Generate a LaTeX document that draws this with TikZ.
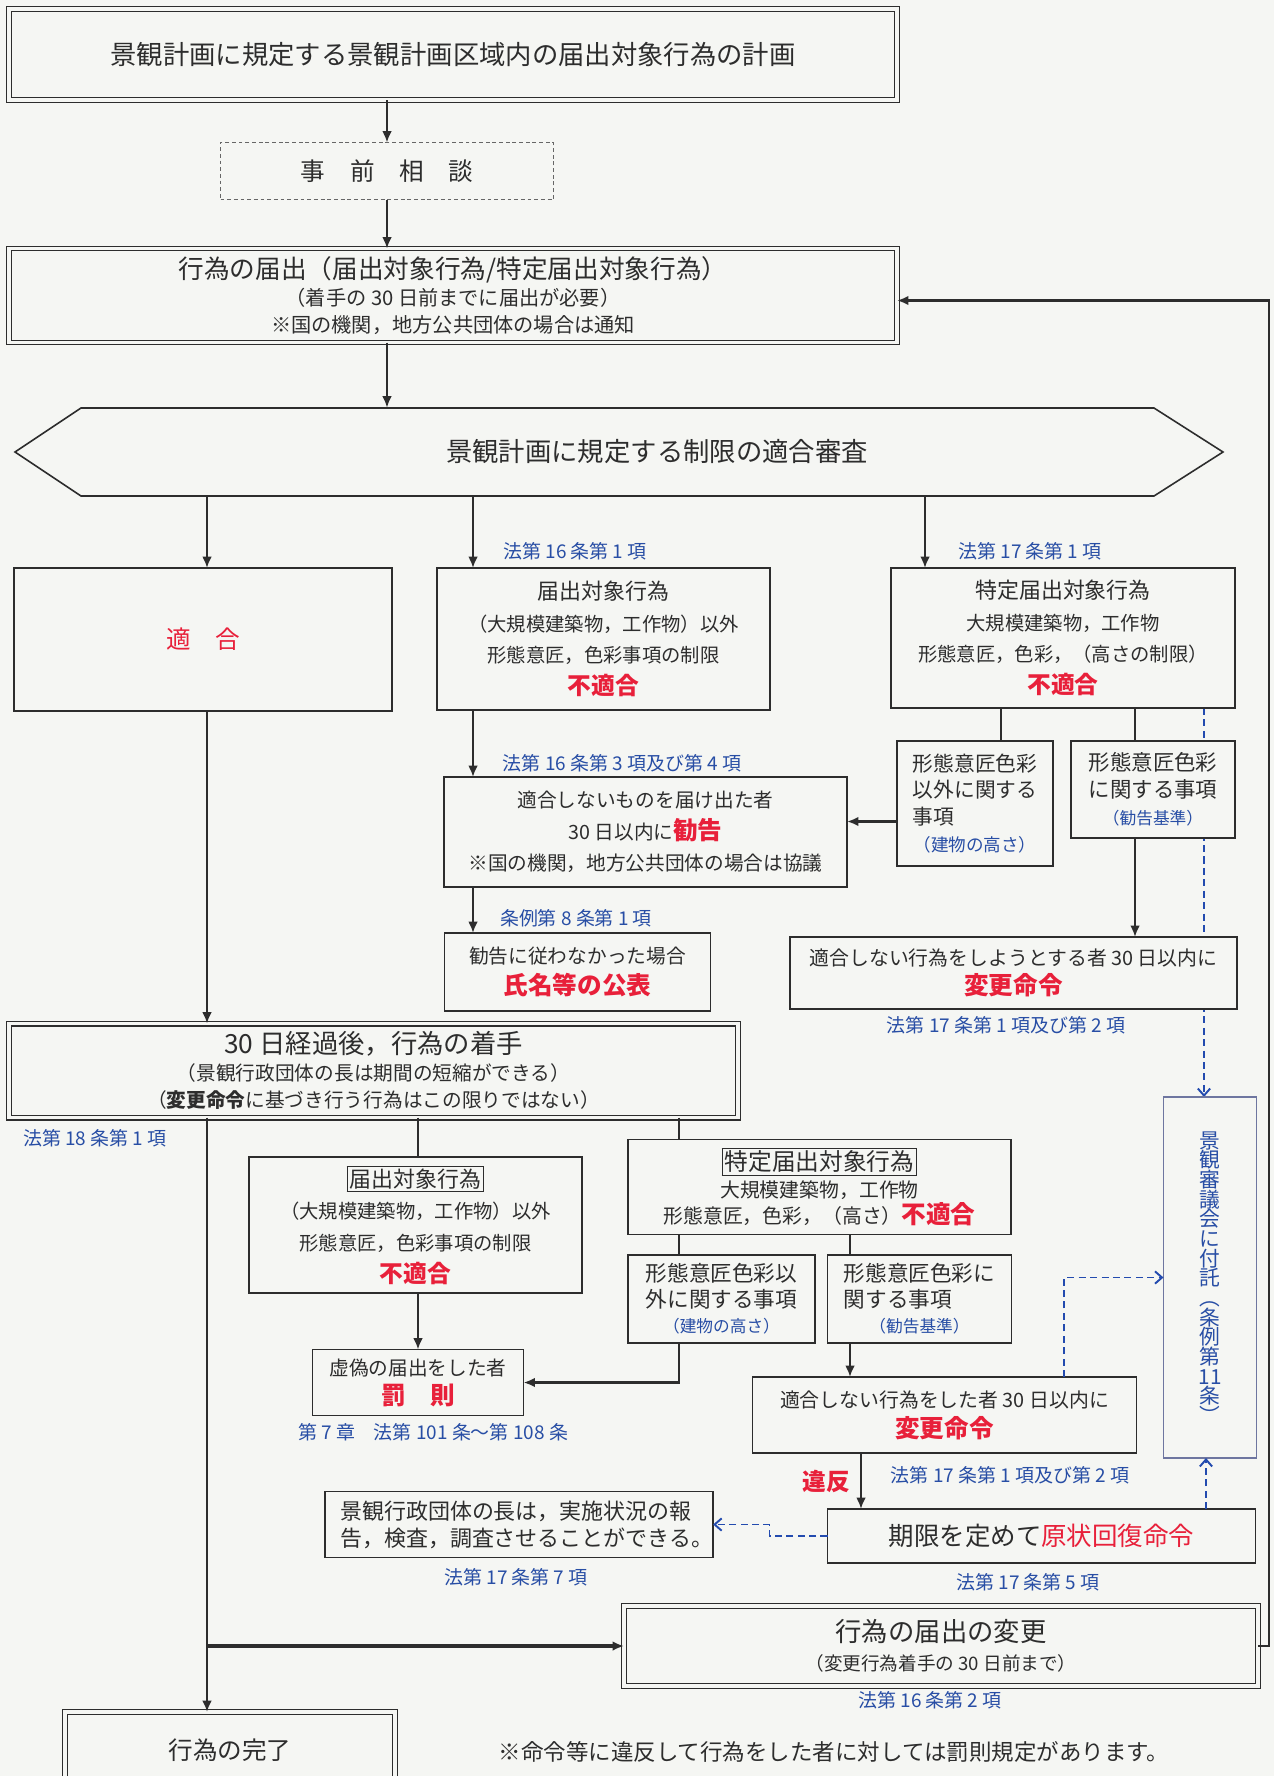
\documentclass[tikz,border=0pt]{standalone}
\usepackage{fontspec}
\setmainfont{Noto Sans CJK JP}
\usetikzlibrary{arrows.meta,positioning,calc,backgrounds}
\definecolor{bgc}{RGB}{245,246,243}
\definecolor{inkc}{RGB}{45,45,45}
\definecolor{redc}{RGB}{232,32,58}
\definecolor{lawc}{RGB}{40,78,165}
\definecolor{dashc}{RGB}{35,75,175}
\definecolor{frmc}{RGB}{110,118,160}
\newcommand{\pxu}{0.02cm}
\newcommand{\fsz}[2]{\fontsize{#1}{#2}\selectfont}
\newcommand{\redbf}[2][14]{{\fontsize{#1}{#1}\selectfont\bfseries\color{redc}#2}}
\newcommand{\redtxt}[2][14]{{\fontsize{#1}{#1}\selectfont\color{redc}#2}}
\newcommand{\bluetxt}[2][10]{{\fontsize{#1}{#1}\selectfont\color{lawc}#2}}
\setlength{\fboxsep}{1.2pt}
\setlength{\fboxrule}{0.5pt}

\begin{document}
\begin{tikzpicture}[
x=\pxu,y=-\pxu,
box/.style={draw=inkc,fill=bgc,line width=0.9pt,align=center,inner sep=0pt,outer sep=0pt,text=inkc},
dbox/.style={box,double=bgc,double distance=1.8pt,line width=0.8pt},
arr/.style={-{Latex[length=6.5pt,width=5.5pt]},line width=1.2pt,draw=inkc},
link/.style={line width=1.2pt,draw=inkc},
darr/.style={-{Straight Barb[length=4pt,width=7pt]},line width=1.1pt,draw=dashc,dash pattern=on 4pt off 2.5pt},
law/.style={text=lawc,inner sep=0pt,font=\fsz{10.8}{12}}]
\useasboundingbox (0,0) rectangle (1274,1776);
\clip (0,0) rectangle (1274,1776);

\node[dbox,minimum width=888*\pxu,minimum height=91*\pxu,font=\fsz{15}{16}] (plan) at (453,54.5) {景観計画に規定する景観計画区域内の届出対象行為の計画};
\node[box,minimum width=333*\pxu,minimum height=57*\pxu,draw=black!60,line width=0.6pt,dash pattern=on 2.2pt off 1.6pt,font=\fsz{14}{16}] (consult) at (387,171) {事　前　相　談};
\node[dbox,minimum width=888*\pxu,minimum height=94*\pxu,font=\fsz{11.5}{15.3}] (notify) at (453,295.5) {{\fsz{14.6}{16}行為の届出（届出対象行為/特定届出対象行為）}\\（着手の 30 日前までに届出が必要）\\※国の機関，地方公共団体の場合は通知};
\node[text=inkc,inner sep=0pt,minimum width=426*\pxu,minimum height=88*\pxu,font=\fsz{15}{18}] (hex) at (657,452) {景観計画に規定する制限の適合審査};
\draw[draw=inkc,line width=0.9pt] (15,452) -- (81,408) -- (1154,408) -- (1223,452) -- (1154,496) -- (81,496) -- cycle;

\node[box,minimum width=378*\pxu,minimum height=143*\pxu,font=\fsz{14}{16}] (ok) at (203,639.5) {\redtxt{適　合}};
\node[box,minimum width=333*\pxu,minimum height=142*\pxu,font=\fsz{11}{18}] (nf1) at (603.5,639) {{\fsz{12.5}{14}届出対象行為}\\（大規模建築物，工作物）以外\\形態意匠，色彩事項の制限\\\redbf[13.5]{不適合}};
\node[box,minimum width=344*\pxu,minimum height=140*\pxu,font=\fsz{11}{18}] (sp1) at (1063,638) {{\fsz{12.5}{14}特定届出対象行為}\\大規模建築物，工作物\\形態意匠，色彩，（高さの制限）\\\redbf[13.5]{不適合}};
\node[box,minimum width=156*\pxu,minimum height=125*\pxu,font=\fsz{11.8}{15.3}] (sp1a) at (975,803.5) {形態意匠色彩\\以外に関する\\\makebox[6em][l]{事項}\\\bluetxt{（建物の高さ）}};
\node[box,minimum width=164*\pxu,minimum height=97*\pxu,font=\fsz{12.2}{15.3}] (sp1b) at (1153,789.5) {形態意匠色彩\\に関する事項\\\bluetxt[9.5]{（勧告基準）}};
\node[box,minimum width=403*\pxu,minimum height=110*\pxu,font=\fsz{11.2}{18}] (adv) at (645.5,832) {適合しないものを届け出た者\\30 日以内に\redbf{勧告}\\※国の機関，地方公共団体の場合は協議};
\node[box,minimum width=266*\pxu,minimum height=78*\pxu,font=\fsz{11.2}{17.5}] (pub) at (577.5,972) {勧告に従わなかった場合\\\redbf{氏名等の公表}};
\node[box,minimum width=447*\pxu,minimum height=72*\pxu,font=\fsz{11.3}{16.5}] (chg1) at (1013.5,973) {適合しない行為をしようとする者 30 日以内に\\\redbf{変更命令}};
\node[dbox,minimum width=729*\pxu,minimum height=94*\pxu,font=\fsz{11.2}{15.3}] (start) at (373.5,1070.5) {{\fsz{15}{16}30 日経過後，行為の着手}\\（景観行政団体の長は期間の短縮ができる）\\（{\bfseries 変更命令}に基づき行う行為はこの限りではない）};
\node[box,minimum width=333*\pxu,minimum height=136*\pxu,font=\fsz{11}{18}] (nf2) at (415.5,1225) {{\fsz{12.5}{14}\fbox{届出対象行為}}\\（大規模建築物，工作物）以外\\形態意匠，色彩事項の制限\\\redbf[13.5]{不適合}};
\node[box,minimum width=383*\pxu,minimum height=95*\pxu,font=\fsz{11.3}{15}] (sp2) at (819.5,1187) {{\fsz{13.5}{15}\fbox{特定届出対象行為}}\\大規模建築物，工作物\\形態意匠，色彩，（高さ）\redbf{不適合}};
\node[box,minimum width=187*\pxu,minimum height=88*\pxu,font=\fsz{12.3}{14.5}] (sp2a) at (721.5,1299) {形態意匠色彩以\\外に関する事項\\\bluetxt[9.5]{（建物の高さ）}};
\node[box,minimum width=184*\pxu,minimum height=88*\pxu,font=\fsz{12.3}{14.5}] (sp2b) at (919.5,1299) {形態意匠色彩に\\\makebox[7em][l]{関する事項}\\\bluetxt[9.5]{（勧告基準）}};
\node[box,minimum width=211*\pxu,minimum height=66*\pxu,font=\fsz{11.2}{16.5}] (pen) at (418,1382.5) {虚偽の届出をした者\\\redbf{罰　則}};
\node[box,minimum width=384*\pxu,minimum height=76*\pxu,font=\fsz{11.3}{17}] (chg2) at (944.5,1415) {適合しない行為をした者 30 日以内に\\\redbf{変更命令}};
\node[box,minimum width=93*\pxu,minimum height=361*\pxu,draw=frmc,line width=0.7pt,text=lawc,font=\fsz{11.8}{11.2}] (council) at (1210,1277.5) {景\\観\\審\\議\\会\\に\\付\\託\\︵\\条\\例\\第\\11\\条\\︶};
\node[box,minimum width=428*\pxu,minimum height=54*\pxu,font=\fsz{14.5}{16}] (restore) at (1041.5,1536) {期限を定めて\redtxt[14.5]{原状回復命令}};
\node[box,minimum width=388*\pxu,minimum height=66*\pxu,align=left,font=\fsz{12.5}{15.3}] (report) at (519,1524.5) {\hspace*{0.7em}景観行政団体の長は，実施状況の報\\\hspace*{0.7em}告，検査，調査させることができる。};
\node[dbox,minimum width=634*\pxu,minimum height=80*\pxu,font=\fsz{10.6}{16.5}] (change) at (941,1646) {{\fsz{15}{16}行為の届出の変更}\\（変更行為着手の 30 日前まで）};
\node[dbox,minimum width=330*\pxu,minimum height=76*\pxu,font=\fsz{14}{16}] (done) at (230,1750) {行為の完了};

\node[law] (l161) at (575,551) {法第 16 条第 1 項};
\node[law] (l171) at (1030,551) {法第 17 条第 1 項};
\node[law] (l163) at (622,763) {法第 16 条第 3 項及び第 4 項};
\node[law] (lj81) at (576,918) {条例第 8 条第 1 項};
\node[law] (l1712a) at (1006,1025) {法第 17 条第 1 項及び第 2 項};
\node[law] (l181) at (95,1138) {法第 18 条第 1 項};
\node[law] (lch7) at (433,1432) {第 7 章　法第 101 条～第 108 条};
\node[law] (l1712b) at (1010,1475) {法第 17 条第 1 項及び第 2 項};
\node[inner sep=0pt] (viol) at (826,1481) {\redbf[13.5]{違反}};
\node[law] (l177) at (516,1577) {法第 17 条第 7 項};
\node[law] (l175) at (1028,1582) {法第 17 条第 5 項};
\node[law] (l162) at (930,1700) {法第 16 条第 2 項};
\node[text=inkc,font=\fsz{12.8}{14}] (note) at (834,1752) {※命令等に違反して行為をした者に対しては罰則規定があります。};

\coordinate (cA) at (207,0);
\coordinate (cB) at (473,0);
\coordinate (cC) at (925,0);
\coordinate (cD) at (1001,0);
\coordinate (cE) at (1135,0);
\coordinate (cF) at (1204,0);
\coordinate (cG) at (418,0);
\coordinate (cH) at (679,0);
\coordinate (cJ) at (850,0);
\coordinate (cK) at (861,0);
\coordinate (cL) at (1064,0);
\coordinate (cM) at (1206,0);
\coordinate (k1) at ($(sp1a.west)+(0,18)$);

\draw[arr] (plan.south -| consult.north) -- (consult.north);
\draw[arr] (consult.south) -- (notify.north -| consult.south);
\draw[arr] (notify.south -| consult.south) -- (hex.north -| consult.south);
\draw[arr] (hex.south -| cA) -- (ok.north -| cA);
\draw[arr] (hex.south -| cB) -- (nf1.north -| cB);
\draw[arr] (hex.south -| cC) -- (sp1.north -| cC);
\draw[link] (sp1.south -| cD) -- (sp1a.north -| cD);
\draw[link] (sp1.south -| cE) -- (sp1b.north -| cE);
\draw[arr,line width=1.8pt] (k1) -- (k1 -| adv.east);
\draw[arr] (nf1.south -| cB) -- (adv.north -| cB);
\draw[arr] (adv.south -| cB) -- (pub.north -| cB);
\draw[arr] (sp1b.south -| cE) -- (chg1.north -| cE);
\draw[arr] (ok.south -| cA) -- (start.north -| cA);
\draw[arr] (start.south -| cA) -- (done.north -| cA);
\draw[link] (start.south -| cG) -- (nf2.north -| cG);
\draw[link] (start.south -| cH) -- (sp2.north -| cH);
\draw[link] (sp2.south -| cH) -- (sp2a.north -| cH);
\draw[link] (sp2.south -| cJ) -- (sp2b.north -| cJ);
\draw[arr] (nf2.south -| cG) -- (pen.north -| cG);
\draw[arr,line width=1.6pt] (sp2a.south -| cH) |- (pen.east);
\draw[arr] (sp2b.south -| cJ) -- (chg2.north -| cJ);
\draw[darr] (chg2.north -| cL) |- (council.west);
\draw[arr] (chg2.south -| cK) -- (restore.north -| cK);
\draw[darr] (restore.north -| cM) -- (council.south -| cM);
\draw[darr] (restore.west) -- ++(-58,0) |- (report.east);
\draw[arr,line width=1.8pt] (cA |- change.west) -- (change.west);
\draw[arr,line width=1.6pt] (change.east) -- ++(11,0) |- ($(notify.east)+(0,5)$);
\begin{scope}[on background layer]
\fill[bgc] (0,0) rectangle (1274,1776);
\draw[darr] (sp1.south -| cF) -- (council.north -| cF);
\end{scope}
\end{tikzpicture}
\end{document}
